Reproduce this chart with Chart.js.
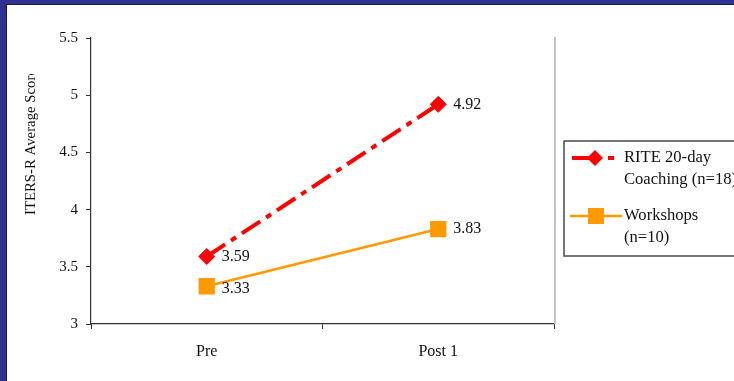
<!DOCTYPE html>
<html>
<head>
<meta charset="utf-8">
<script src="https://cdn.jsdelivr.net/npm/chart.js@4.4.1/dist/chart.umd.min.js"></script>
<style>
  html, body { margin: 0; padding: 0; }
  body { width: 734px; height: 381px; background: #2f3192; position: relative; overflow: hidden; }
  #panel { position: absolute; left: 6px; top: 4px; width: 740px; height: 390px; background: #fff;
           border-left: 1px solid #1b1b3c; border-top: 1px solid #1b1b3c; }
  #wrap { position: absolute; left: 0; top: 0; width: 734px; height: 381px; }
</style>
</head>
<body>
<div id="panel"></div>
<div id="wrap"><canvas id="c" width="734" height="381"></canvas></div>
<script>
// Time points on the x axis
const categories = ['Pre', 'Post 1'];
// Average ITERS-R scores per group
const coachingScores = [3.59, 4.92];
const workshopScores = [3.33, 3.83];
// Legend text, one entry per line
const coachingLabel = ['RITE 20-day', 'Coaching (n=18)'];
const workshopLabel = ['Workshops', '(n=10)'];
// Y axis range and ticks
const yTicks = [3, 3.5, 4, 4.5, 5, 5.5];
const yTitle = 'ITERS-R Average Score';

const RED = '#ff0000';
const ORANGE = '#ff9900';
const SERIF = '"Liberation Serif", "Times New Roman", serif';

// Draws the y title, the right plot border, value labels and the boxed legend
const decorations = {
  id: 'decorations',
  afterDraw(chart) {
    const ctx = chart.ctx;
    const area = chart.chartArea;
    ctx.save();

    // light right-hand border of the plot area
    ctx.strokeStyle = '#c4c4c4';
    ctx.lineWidth = 2;
    ctx.beginPath();
    ctx.moveTo(area.right + 1, area.top - 1);
    ctx.lineTo(area.right + 1, area.bottom);
    ctx.stroke();

    // rotated y axis title
    ctx.save();
    ctx.beginPath();
    ctx.rect(0, 74, 80, 300);
    ctx.clip();
    ctx.translate(31, 142);
    ctx.rotate(-Math.PI / 2);
    ctx.fillStyle = '#111';
    ctx.font = '14.8px ' + SERIF;
    ctx.textAlign = 'center';
    ctx.textBaseline = 'middle';
    ctx.fillText(yTitle, 0, 0);
    ctx.restore();

    // value labels next to each point
    ctx.fillStyle = '#111';
    ctx.font = '16px ' + SERIF;
    ctx.textAlign = 'left';
    ctx.textBaseline = 'middle';
    chart.data.datasets.forEach((ds, di) => {
      const meta = chart.getDatasetMeta(di);
      meta.data.forEach((pt, i) => {
        const dy = di === 1 && i === 0 ? 3 : 0;
        ctx.fillText(ds.data[i].toFixed(2), pt.x + 15, pt.y + dy);
      });
    });

    // legend box
    const bx = 564, by = 141, bh = 115;
    ctx.strokeStyle = '#4a4a4a';
    ctx.lineWidth = 1.5;
    ctx.strokeRect(bx, by, 200, bh);

    // coaching sample: dash-dot line with diamond
    const y1 = 158;
    ctx.strokeStyle = RED;
    ctx.lineWidth = 4;
    ctx.setLineDash([24, 12, 6, 60]);
    ctx.beginPath();
    ctx.moveTo(572, y1);
    ctx.lineTo(616, y1);
    ctx.stroke();
    ctx.setLineDash([]);
    ctx.fillStyle = RED;
    ctx.beginPath();
    ctx.moveTo(595 - 8, y1);
    ctx.lineTo(595, y1 - 8);
    ctx.lineTo(595 + 8, y1);
    ctx.lineTo(595, y1 + 8);
    ctx.closePath();
    ctx.fill();

    // workshop sample: solid line with square
    const y2 = 216;
    ctx.strokeStyle = ORANGE;
    ctx.lineWidth = 2.5;
    ctx.beginPath();
    ctx.moveTo(570, y2);
    ctx.lineTo(622, y2);
    ctx.stroke();
    ctx.fillStyle = ORANGE;
    ctx.fillRect(596 - 8, y2 - 8, 16, 16);

    // legend text
    ctx.fillStyle = '#111';
    ctx.font = '16.6px ' + SERIF;
    ctx.textAlign = 'left';
    ctx.textBaseline = 'middle';
    coachingLabel.forEach((t, i) => ctx.fillText(t, 624, y1 + i * 22));
    workshopLabel.forEach((t, i) => ctx.fillText(t, 624, y2 + i * 22));

    ctx.restore();
  }
};

new Chart(document.getElementById('c'), {
  type: 'line',
  data: {
    labels: categories,
    datasets: [
      {
        label: coachingLabel.join(' '),
        data: coachingScores,
        borderColor: RED,
        backgroundColor: RED,
        borderWidth: 4,
        borderDash: [22, 7, 6, 7],
        pointStyle: 'rectRot',
        pointRadius: 8,
        pointBorderWidth: 1,
        pointBorderColor: RED,
        pointBackgroundColor: RED,
        tension: 0
      },
      {
        label: workshopLabel.join(' '),
        data: workshopScores,
        borderColor: ORANGE,
        backgroundColor: ORANGE,
        borderWidth: 2.5,
        pointStyle: 'rect',
        pointRadius: 11.5,
        pointBorderWidth: 0,
        pointBackgroundColor: ORANGE,
        tension: 0
      }
    ]
  },
  options: {
    responsive: false,
    animation: false,
    layout: { padding: { top: 38, right: 180, left: 0, bottom: 0 } },
    plugins: { legend: { display: false }, tooltip: { enabled: false } },
    scales: {
      x: {
        type: 'category',
        offset: true,
        afterFit(scale) { scale.height = 57; },
        grid: {
          offset: true,
          drawOnChartArea: false,
          drawTicks: true,
          tickLength: 5,
          color: '#333'
        },
        border: { color: '#333', width: 1.2 },
        ticks: {
          color: '#111',
          padding: 13,
          font: { family: SERIF, size: 16 },
          maxRotation: 0
        }
      },
      y: {
        min: yTicks[0],
        max: yTicks[yTicks.length - 1],
        afterFit(scale) { scale.width = 91; },
        afterBuildTicks(scale) { scale.ticks = yTicks.map(v => ({ value: v })); },
        grid: {
          drawOnChartArea: false,
          drawTicks: true,
          tickLength: 5,
          color: '#333'
        },
        border: { color: '#333', width: 1.2 },
        ticks: {
          color: '#111',
          padding: 8,
          font: { family: SERIF, size: 15 },
          callback: v => String(v)
        }
      }
    }
  },
  plugins: [decorations]
});
</script>
</body>
</html>
